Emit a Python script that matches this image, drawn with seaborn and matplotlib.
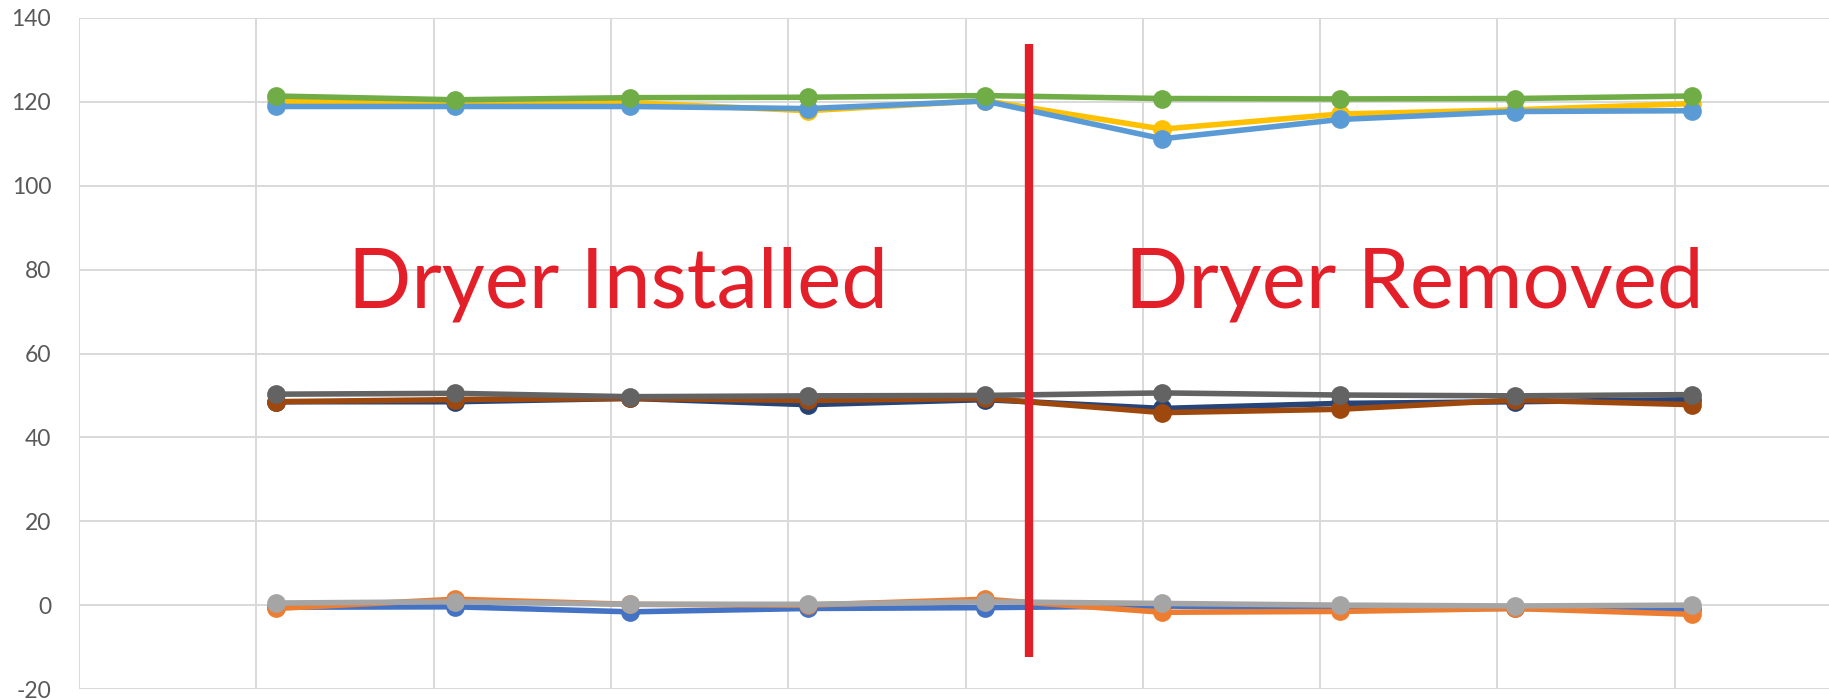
import pandas as pd
import matplotlib
matplotlib.use("Agg")
import matplotlib.pyplot as plt
import seaborn as sns

# sample positions (scatter-style x values) and the nine series
x_vals = [1.11, 2.12, 3.11, 4.11, 5.11, 6.11, 7.11, 8.10, 9.10]

s1 = [-0.5, -0.4, -1.6, -0.8, -0.6, -0.2, -0.8, -0.8, -1.0]      # blue
s2 = [-0.8, 1.4, 0.2, 0.0, 1.4, -1.7, -1.5, -0.8, -2.2]         # orange
s3 = [0.5, 0.8, 0.2, 0.2, 0.8, 0.4, 0.0, -0.2, 0.0]             # gray
s4 = [120.1, 119.7, 119.8, 117.9, 120.3, 113.5, 117.1, 118.1, 119.6]  # yellow
s5 = [118.9, 118.9, 118.9, 118.4, 120.2, 111.2, 115.8, 117.7, 117.9]  # light blue
s6 = [121.4, 120.5, 121.0, 121.1, 121.5, 120.8, 120.7, 120.8, 121.4]  # green
s7 = [48.5, 48.5, 49.3, 47.8, 49.0, 46.9, 48.1, 48.5, 49.0]     # navy
s8 = [48.5, 49.0, 49.3, 48.8, 49.3, 45.9, 46.7, 48.9, 47.8]     # brown
s9 = [50.3, 50.5, 49.7, 49.9, 50.0, 50.6, 50.1, 49.9, 50.2]     # dark gray

names = ["Series1", "Series2", "Series3", "Series4", "Series5",
         "Series6", "Series7", "Series8", "Series9"]
colors = ["#4472C4", "#ED7D31", "#A5A5A5", "#FFC000", "#5B9BD5",
          "#70AD47", "#264478", "#9E480E", "#636363"]

y_ticks = [-20, 0, 20, 40, 60, 80, 100, 120, 140]

divider_x = 5.36
divider_low = -12.3
divider_high = 133.8
label_left = "Dryer Installed"
label_right = "Dryer Removed"

rows = []
for name, vals in zip(names, [s1, s2, s3, s4, s5, s6, s7, s8, s9]):
    for xv, yv in zip(x_vals, vals):
        rows.append({"x": xv, "value": yv, "series": name})
df = pd.DataFrame(rows)

sns.set_style("white")
plt.rcParams["font.family"] = ["Lato", "DejaVu Sans"]

fig = plt.figure(figsize=(18.29, 6.99), dpi=100)
ax = fig.add_axes([79 / 1829, 1 - 689 / 699, 1 - 79 / 1829, (689 - 18) / 699])

sns.lineplot(data=df, x="x", y="value", hue="series", hue_order=names,
             palette=dict(zip(names, colors)), marker="o", markersize=13.5,
             markeredgewidth=0, linewidth=4, sort=False, legend=False,
             ax=ax, zorder=3)

ax.set_xlim(0, 9.87)
ax.set_ylim(-20, 140)
ax.set_xticks(range(0, 10))
ax.set_xticklabels([])
ax.set_yticks(y_ticks)
ax.set_yticklabels([str(t) for t in y_ticks], color="#595959", fontsize=16.5)
ax.tick_params(axis="both", length=0, pad=20)
ax.grid(True, color="#D9D9D9", linewidth=1.4)
ax.set_axisbelow(True)
for sp in ax.spines.values():
    sp.set_visible(False)
ax.set_xlabel("")
ax.set_ylabel("")

ax.vlines(divider_x, divider_low, divider_high, color="#E3202A",
          linewidth=6, zorder=5)
ax.text(3.04, 76.5, label_left, color="#E3202A", fontsize=60,
        ha="center", va="center", zorder=6)
ax.text(7.53, 76.5, label_right, color="#E3202A", fontsize=60,
        ha="center", va="center", zorder=6)

fig.savefig("out.png", dpi=100)
